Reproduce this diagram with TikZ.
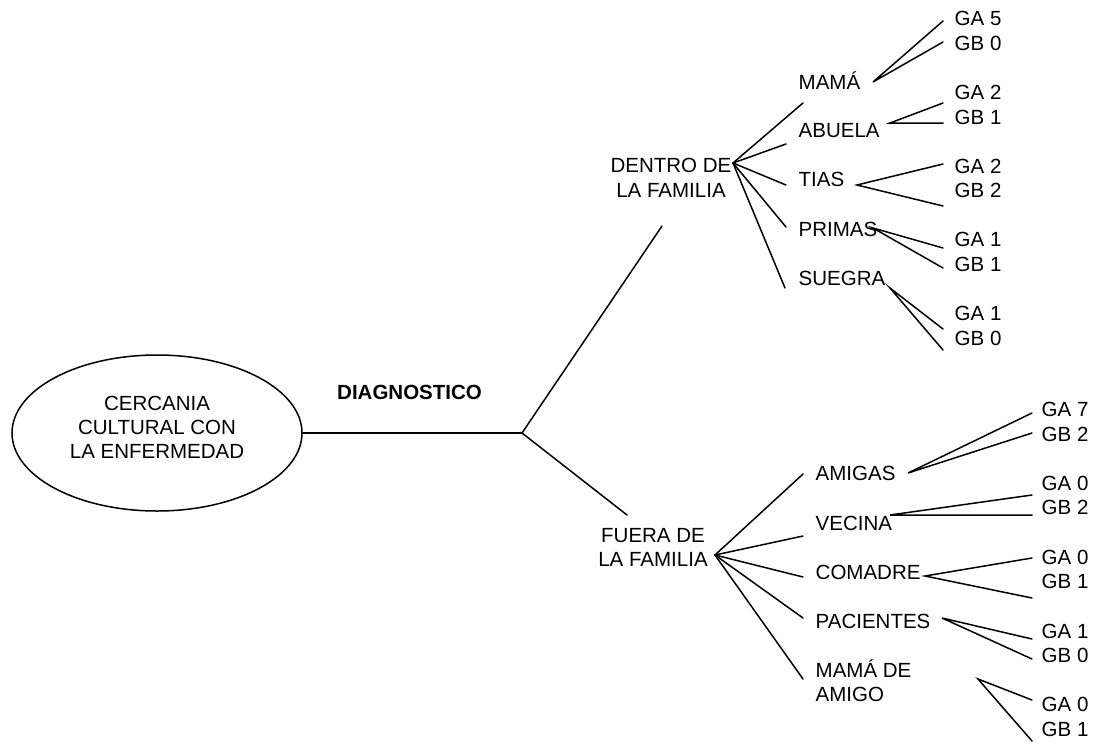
\documentclass[tikz,border=0pt]{standalone}
\usepackage{fontspec}
\setmainfont{Liberation Sans}
\usetikzlibrary{shapes.geometric}

\begin{document}
\begin{tikzpicture}[x=1pt,y=-1pt,
  txt/.style={font=\fontsize{20.5}{24.3}\selectfont, inner sep=0pt},
  lbl/.style={txt, anchor=base west},
  stack/.style={txt, align=center, anchor=south},
  wire/.style={line width=1.5pt, line cap=round},
  bubble/.style={draw, line width=1.5pt, ellipse, minimum width=290pt, minimum height=156pt, inner sep=0pt}
]
\useasboundingbox (0,0) rectangle (1095,742);

% central ellipse and its title
\node[bubble] (src) at (157,433) {};
\node[stack] (srctxt) at (157,459) {CERCANIA\\CULTURAL CON\\LA ENFERMEDAD};
\node[lbl, font=\fontsize{20.5}{24.3}\selectfont\bfseries] (diag) at (337,399.3) {DIAGNOSTICO};

% trunk and the two main branches
\coordinate (root) at (522,433);
\coordinate (upend) at (662,226);
\coordinate (downend) at (627,515);
\draw[wire] (src.east) -- (root);
\draw[wire] (root) -- (upend);
\draw[wire] (root) -- (downend);

% group headings
\node[stack] (dentro) at (671,197.3) {DENTRO DE\\LA FAMILIA};
\node[stack] (fuera) at (653,566.7) {FUERA DE\\LA FAMILIA};
\coordinate (hubD) at (733,163);
\coordinate (hubF) at (715,555);

% members within the family
\node[lbl] (mama) at (798.5,89.3) {MAMÁ};
\node[lbl] (abuela) at (798.5,137.3) {ABUELA};
\node[lbl] (tias) at (798.5,186.7) {TIAS};
\node[lbl] (primas) at (798.5,236) {PRIMAS};
\node[lbl] (suegra) at (798.5,285) {SUEGRA};

\coordinate (dMama) at (803,103);
\coordinate (dAbuela) at (786,144);
\coordinate (dTias) at (786,185);
\coordinate (dPrimas) at (786,227);
\coordinate (dSuegra) at (785,288);
\foreach \e in {dMama,dAbuela,dTias,dPrimas,dSuegra}
  \draw[wire] (hubD) -- (\e);

% members outside the family
\node[lbl] (amigas) at (815.5,480.7) {AMIGAS};
\node[lbl] (vecina) at (815.5,530) {VECINA};
\node[lbl] (comadre) at (815.5,579) {COMADRE};
\node[lbl] (pacientes) at (815.5,628.3) {PACIENTES};
\node[txt, align=left, anchor=south west] (mamaamigo) at (815.5,701.7) {MAMÁ DE\\AMIGO};

\coordinate (fAmigas) at (803,474);
\coordinate (fVecina) at (803,536);
\coordinate (fComadre) at (803,577);
\coordinate (fPacientes) at (803,618);
\coordinate (fMamaAmigo) at (803,679);
\foreach \e in {fAmigas,fVecina,fComadre,fPacientes,fMamaAmigo}
  \draw[wire] (hubF) -- (\e);

% group counts, within the family
\node[lbl] (ga1) at (954.5,25.7) {GA 5};
\node[lbl] (gb1) at (954.5,50) {GB 0};
\node[lbl] (ga2) at (954.5,99.3) {GA 2};
\node[lbl] (gb2) at (954.5,124) {GB 1};
\node[lbl] (ga3) at (954.5,173.3) {GA 2};
\node[lbl] (gb3) at (954.5,197.7) {GB 2};
\node[lbl] (ga4) at (954.5,246.7) {GA 1};
\node[lbl] (gb4) at (954.5,271) {GB 1};
\node[lbl] (ga5) at (954.5,320.7) {GA 1};
\node[lbl] (gb5) at (954.5,345) {GB 0};

% group counts, outside the family
\node[lbl] (ga6) at (1041.5,416.7) {GA 7};
\node[lbl] (gb6) at (1041.5,441.7) {GB 2};
\node[lbl] (ga7) at (1041.5,490) {GA 0};
\node[lbl] (gb7) at (1041.5,514) {GB 2};
\node[lbl] (ga8) at (1041.5,564) {GA 0};
\node[lbl] (gb8) at (1041.5,588.3) {GB 1};
\node[lbl] (ga9) at (1041.5,638.3) {GA 1};
\node[lbl] (gb9) at (1041.5,662.7) {GB 0};
\node[lbl] (ga10) at (1041.5,711.7) {GA 0};
\node[lbl] (gb10) at (1041.5,736) {GB 1};

% forks from each member to its counts
\foreach \s/\sx/\sy/\ex/\ay/\by in {
    a/873/82/943/21/42,
    b/890/123/943/103/123,
    c/857/185/943/164/206,
    d/873/228/943/248/268,
    e/890/288/943/329/350,
    f/908/473/1032/413/433,
    g/890/515/1032/495/515,
    h/925/576/1032/558/598,
    i/942/618/1032/639/659,
    j/978/679/1032/700/741} {
  \coordinate (fork\s) at (\sx,\sy);
  \coordinate (tipA\s) at (\ex,\ay);
  \coordinate (tipB\s) at (\ex,\by);
  \draw[wire] (tipA\s) -- (fork\s) -- (tipB\s);
}
\end{tikzpicture}
\end{document}
